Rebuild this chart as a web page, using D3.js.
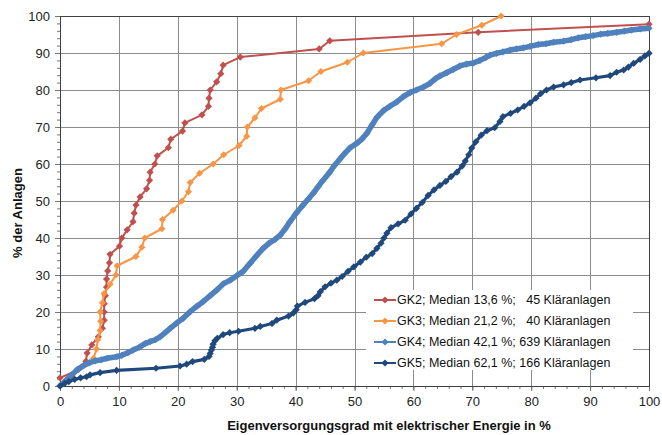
<!DOCTYPE html>
<html>
<head>
<meta charset="utf-8">
<script src="https://cdn.jsdelivr.net/npm/d3@7"></script>
<style>
  body { margin: 0; background: #fff; }
  svg { font-family: Arial, "Liberation Sans", sans-serif; }
</style>
</head>
<body>
<div id="my_dataviz"></div>
<script>
'use strict';

// Values: [Eigenversorgungsgrad %, % der Anlagen]
const gk2 = [[0,2.2],[3.1,4.4],[4.4,6.7],[4.6,8.9],[5.4,11.1],[6.5,13.3],[7.2,15.6],[7.5,17.8],[7.5,20.0],[7.5,22.2],
  [7.7,24.4],[7.9,26.7],[7.9,28.9],[8.1,31.1],[8.4,33.3],[8.5,35.6],[10.1,37.8],[10.5,40.0],[11.4,42.2],[12.4,44.4],
  [12.6,46.7],[12.9,48.9],[13.6,51.1],[14.7,53.3],[15.2,55.6],[15.3,57.8],[16.1,60.0],[16.5,62.2],[18.4,64.4],[18.8,66.7],
  [20.8,68.9],[21.2,71.1],[24.1,73.3],[25.2,75.6],[25.3,77.8],[25.5,80.0],[26.6,82.2],[27.3,84.4],[27.7,86.7],[30.6,88.9],
  [44.0,91.1],[45.8,93.3],[71.0,95.6],[100,97.8]];

const gk3 = [[5.7,7.5],[6.2,10],[6.4,12.5],[6.8,15],[6.9,17.5],[6.8,20],[7.2,22.5],[7.5,25],[8.5,27.5],[9.5,30],
  [9.7,32.5],[12.9,35],[13.9,37.5],[14.4,40],[17.3,42.5],[17.4,45],[19.2,47.5],[20.7,50],[21.8,52.5],[22.1,55],
  [23.7,57.5],[26.0,60],[27.8,62.5],[30.4,65],[31.7,67.5],[31.8,70],[33.1,72.5],[34.2,75],[37.4,77.5],[37.5,80],
  [42.2,82.5],[44.3,85],[48.8,87.5],[51.5,90],[64.8,92.5],[67.3,95],[71.6,97.5],[74.9,100]];

const gk4 = [[0,0],[1.0,1.5],[2.0,3.0],[3.0,4.5],[4.0,5.5],[5.0,6.3],[6.0,6.8],[7.0,7.1],[8.0,7.5],[9.6,7.9],
  [10.5,8.3],[11.5,9.0],[12.4,9.7],[13.5,10.5],[14.5,11.5],[15.3,12.0],[16.2,12.5],[17.0,13.3],[18.0,14.6],[18.7,15.6],
  [19.8,17.0],[20.9,18.3],[22.1,20.1],[23.2,21.5],[24.3,22.8],[25.5,24.4],[26.6,25.9],[27.7,27.6],[28.9,28.6],[30.0,29.8],
  [31.1,31.0],[32.3,33.2],[33.4,35.3],[34.5,37.2],[35.5,38.6],[36.5,39.6],[37.4,40.8],[38.2,42.4],[39.0,44.3],[40.2,46.9],
  [41.2,48.8],[42.2,50.6],[43.0,52.1],[43.8,53.8],[44.6,55.5],[45.8,57.8],[46.6,59.6],[47.5,61.3],[48.3,62.8],[49.2,64.3],
  [50.4,65.6],[51.3,66.8],[52.1,68.3],[53.0,70.6],[53.8,72.6],[54.9,74.4],[56.0,75.6],[57.2,76.8],[58.3,78.2],[59.4,79.3],
  [60.5,80.0],[61.7,80.8],[62.8,81.8],[63.7,83.0],[64.5,83.8],[65.7,84.7],[66.8,85.6],[67.9,86.5],[69.0,87.0],[70.2,87.3],
  [71.3,88.0],[72.3,88.8],[73.0,89.4],[74.1,89.9],[75.2,90.3],[76.4,90.8],[77.5,91.1],[78.7,91.4],[79.8,91.8],[81.2,92.3],
  [82.5,92.5],[83.8,92.9],[85.5,93.2],[86.8,93.6],[88.0,94.1],[89.2,94.4],[90.5,94.7],[91.8,95.1],[93.0,95.3],[94.5,95.6],
  [95.8,95.9],[97.0,96.2],[98.5,96.5],[100,96.7]];

const gk5 = [[0,0],[0.8,0.7],[1.5,1.2],[2.5,1.8],[3.5,2.2],[4.5,2.5],[5.1,3.0],[6.8,3.6],[9.6,4.2],[16.3,4.8],
  [20.4,5.4],[21.5,5.9],[22.5,6.6],[24.5,7.2],[25.3,8.0],[25.5,8.8],[25.7,9.7],[25.9,10.5],[26.0,11.3],[26.3,12.2],
  [26.7,12.9],[27.7,13.9],[28.8,14.4],[30.3,14.8],[33.1,15.6],[34.0,16.1],[36.0,16.9],[36.8,17.8],[38.8,18.9],[39.6,19.7],
  [40.1,20.6],[40.3,21.6],[41.6,22.6],[43.2,23.6],[43.8,24.4],[44.2,25.5],[45.0,26.8],[46.0,27.8],[47.0,28.6],[47.9,29.6],
  [48.9,31.0],[49.9,32.2],[51.0,33.5],[52.0,34.8],[53.0,35.8],[53.8,37.2],[54.5,38.6],[55.0,40.0],[55.5,41.3],[56.2,42.8],
  [57.4,43.8],[58.6,44.8],[59.6,46.5],[60.5,48.0],[61.5,49.6],[62.5,51.5],[63.5,53.0],[64.5,54.2],[65.5,55.3],[66.4,56.6],
  [67.4,57.8],[68.3,59.5],[68.8,60.8],[69.4,62.5],[69.9,64.3],[70.6,66.0],[71.5,67.8],[72.5,69.0],[73.8,69.8],[74.7,71.5],
  [75.2,72.8],[76.5,73.7],[77.7,74.6],[78.8,75.6],[79.8,76.5],[80.8,77.8],[81.6,79.0],[82.6,80.0],[83.8,80.8],[85.5,81.4],
  [86.8,82.0],[88.3,82.7],[91.0,83.3],[93.4,83.9],[94.5,84.8],[95.7,85.4],[96.5,86.2],[97.4,87.2],[98.5,88.3],[99.3,89.2],
  [100,89.9]];

const seriesNames  = ["GK2; Median 13,6 %;   45 Kläranlagen",
                      "GK3; Median 21,2 %;   40 Kläranlagen",
                      "GK4; Median 42,1 %; 639 Kläranlagen",
                      "GK5; Median 62,1 %; 166 Kläranlagen"];
const seriesColors = ["#C0504D", "#F79646", "#4F81BD", "#1F497D"];
const seriesData   = [gk2, gk3, gk4, gk5];
// GK4 / GK5 have so many plants that the markers merge into a thick band
const bandWidths   = [2, 2, 5.5, 3.2];

const xTickValues = [0, 10, 20, 30, 40, 50, 60, 70, 80, 90, 100];
const yTickValues = [0, 10, 20, 30, 40, 50, 60, 70, 80, 90, 100];

const xTitle = "Eigenversorgungsgrad mit elektrischer Energie in %";
const yTitle = "% der Anlagen";

// set the dimensions and margins of the graph
let margin = {top: 16, right: 13, bottom: 49, left: 60},
  width = 662 - margin.left - margin.right,
  height = 435 - margin.top - margin.bottom;

let root = d3.select("#my_dataviz")
  .append("svg")
    .attr("width", 662)
    .attr("height", 435);

let svg = root.append("g")
  .attr("transform", "translate(" + margin.left + "," + margin.top + ")");

let x = d3.scaleLinear().domain([0, 100]).range([0, width]);
let y = d3.scaleLinear().domain([0, 100]).range([height, 0]);

// Gridlines
svg.append("g").selectAll("line")
  .data(xTickValues.slice(1, -1))
  .enter().append("line")
  .attr("x1", d => Math.round(x(d)) + 0.5).attr("x2", d => Math.round(x(d)) + 0.5)
  .attr("y1", 0).attr("y2", height + 4)
  .style("stroke", "#8c8c8c");

svg.append("g").selectAll("line")
  .data(yTickValues.slice(1, -1))
  .enter().append("line")
  .attr("y1", d => Math.round(y(d)) + 0.5).attr("y2", d => Math.round(y(d)) + 0.5)
  .attr("x1", -4).attr("x2", width)
  .style("stroke", "#8c8c8c");

// Minor ticks (every 2 %) on both axes
let minorX = d3.axisBottom(x).ticks(50).tickSize(3).tickFormat("");
let minorY = d3.axisLeft(y).ticks(50).tickSize(3).tickFormat("");
svg.append("g").attr("class", "minor").attr("transform", "translate(0," + height + ")").call(minorX);
svg.append("g").attr("class", "minor").call(minorY);

// Major axes with labels
svg.append("g")
  .attr("class", "axis")
  .attr("transform", "translate(0," + height + ")")
  .call(d3.axisBottom(x).tickValues(xTickValues).tickSize(5).tickPadding(6));

svg.append("g")
  .attr("class", "axis")
  .call(d3.axisLeft(y).tickValues(yTickValues).tickSize(5).tickPadding(5));

d3.selectAll(".axis text").style("font-size", "13px").style("fill", "#222")
  .style("font-family", "Arial, 'Liberation Sans', sans-serif");
d3.selectAll(".axis line, .minor line").style("stroke", "#777");
d3.selectAll(".axis path, .minor path").remove();

// Plot frame
svg.append("rect")
  .attr("x", 0.5).attr("y", 0.5)
  .attr("width", width).attr("height", height)
  .style("fill", "none")
  .style("stroke", "#404040");

// Diamond marker
const diamond = (r) => "M0," + (-r) + "L" + r + ",0L0," + r + "L" + (-r) + ",0Z";

let line = d3.line()
  .x(d => x(d[0]))
  .y(d => y(d[1]));

// Draw every series, later ones on top
seriesData.forEach(function(data, i) {
  let g = svg.append("g");
  g.append("path")
    .datum(data)
    .attr("d", line)
    .style("fill", "none")
    .style("stroke", seriesColors[i])
    .style("stroke-width", bandWidths[i])
    .style("stroke-linejoin", "round");

  g.selectAll("path.mk")
    .data(data)
    .enter()
    .append("path")
    .attr("class", "mk")
    .attr("d", diamond(3.6))
    .attr("transform", d => "translate(" + x(d[0]) + "," + y(d[1]) + ")")
    .style("fill", seriesColors[i]);
});

// Legend
let legend = root.append("g").attr("transform", "translate(366,290)");
legend.append("rect")
  .attr("width", 267).attr("height", 80)
  .style("fill", "#fff");

seriesNames.forEach(function(name, i) {
  let row = legend.append("g").attr("transform", "translate(0," + (10 + i * 21) + ")");
  row.append("line")
    .attr("x1", 8).attr("x2", 30)
    .style("stroke", seriesColors[i])
    .style("stroke-width", 2);
  row.append("path")
    .attr("d", diamond(3.6))
    .attr("transform", "translate(19,0)")
    .style("fill", seriesColors[i]);
  row.append("text")
    .attr("x", 31)
    .attr("dy", "0.35em")
    .style("font-size", "12.5px")
    .style("fill", "#111")
    .style("white-space", "pre")
    .attr("xml:space", "preserve")
    .text(name);
});

// Axis titles
root.append("text")
  .attr("x", 389)
  .attr("y", 430)
  .attr("text-anchor", "middle")
  .style("font-size", "13px")
  .style("font-weight", "bold")
  .style("fill", "#111")
  .text(xTitle);

root.append("text")
  .attr("transform", "translate(22,213) rotate(-90)")
  .attr("text-anchor", "middle")
  .style("font-size", "13px")
  .style("font-weight", "bold")
  .style("fill", "#111")
  .text(yTitle);
</script>
</body>
</html>
